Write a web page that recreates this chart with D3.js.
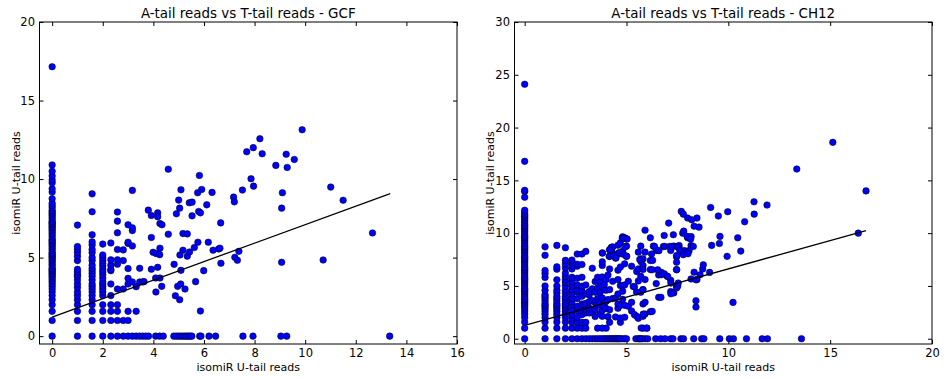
<!DOCTYPE html>
<html>
<head>
<meta charset="utf-8">
<script src="https://cdnjs.cloudflare.com/ajax/libs/d3/7.8.5/d3.min.js"></script>
<style>
body { margin: 0; background: #fff; }
text { font-family: "DejaVu Sans", sans-serif; fill: #000; }
</style>
</head>
<body>
<svg id="chart" width="947" height="379"></svg>
<script>
// GCF: dense log2 columns, [x, [y...]]
var gcfColumns = [
	[0, [0, 1, 1.58, 2, 2.32, 2.58, 2.81, 3, 3.17, 3.32, 3.46, 3.58, 3.7, 3.81, 3.91, 4, 4.09, 4.17, 4.25, 4.32, 4.46, 4.58, 4.7, 4.81, 4.91, 5, 5.09, 5.17, 5.25, 5.32, 5.46, 5.58, 5.7, 5.81, 5.91, 6, 6.09, 6.17, 6.32, 6.46, 6.58, 6.7, 6.81, 6.91, 7, 7.09, 7.17, 7.25, 7.32, 7.46, 7.58, 7.7, 7.81, 7.91, 8, 8.17, 8.32, 8.46, 8.75, 9.17, 9.38, 9.76, 9.94, 10.2, 10.5, 10.9, 17.15]],
	[1, [0, 1, 1.58, 2, 2.32, 2.58, 2.81, 3.09, 3.32, 3.58, 3.81, 3.91, 4.09, 4.25, 4.81, 5.09, 5.32, 5.52, 5.7, 7.07]],
	[1.58, [0, 1, 1.58, 2, 2.32, 2.58, 2.81, 3, 3.17, 3.32, 3.58, 3.81, 4, 4.17, 4.32, 4.52, 4.81, 5, 5.32, 5.52, 5.81, 6.0, 6.46, 7.92, 9.06]],
	[2, [0, 1, 1.58, 2, 2.58, 2.81, 3, 3.17, 3.32, 3.46, 3.7, 3.91, 4.09, 4.25, 4.46, 4.64, 4.81, 5.0, 5.17, 5.86]],
	[2.32, [0, 1, 1.58, 2, 2.58, 3.32, 4.17, 4.25, 4.52, 4.86, 5.93]],
	[2.58, [0, 1, 1.58, 2, 3.0, 4.58, 4.86, 5.52, 6.58, 7.32, 7.9]],
	[2.81, [0, 1, 3.0, 4.81, 5.49]],
	[3, [0, 1, 1.58, 3.32, 3.68, 4.3, 5.9, 5.98, 7.09]],
	[3.17, [0, 3.45, 5.74, 6.72, 6.89, 9.28]],
	[3.32, [0, 1.58, 3.15]],
	[3.46, [0, 3.45, 4.32]],
	[3.58, [0, 3.45]]
];
var gcfZeroRow = [3.7, 3.81, 4.09, 4.25, 4.39, 4.81, 4.91, 5, 5.09, 5.17, 5.25, 5.32, 5.39, 5.46, 5.52, 5.83, 5.88, 6.2, 6.46, 7.54, 7.94, 9.04, 9.27, 13.34];
var gcfScatter = [
	[3.8, 8.02], [3.92, 7.68], [4.17, 7.85], [4.17, 7.6], [4.26, 7.17], [4.34, 7.09], [4.91, 7.79], [5.04, 8.15],
	[5.0, 8.66], [5.42, 8.49], [5.53, 8.53], [5.53, 7.66], [5.79, 7.94], [5.86, 7.85], [5.75, 9.13], [6.11, 8.36],
	[6.66, 7.21], [7.17, 8.85], [7.2, 8.55], [3.92, 6.28], [4.59, 6.49], [5.17, 6.53], [5.34, 6.51], [3.99, 5.34],
	[4.11, 5.26], [4.25, 5.19], [4.26, 5.6], [5.05, 5.17], [5.17, 5.47], [5.34, 5.09], [5.43, 5.36], [5.62, 5.64],
	[5.76, 5.98], [6.17, 5.98], [6.36, 5.47], [6.58, 5.55], [6.63, 5.6], [6.67, 4.64], [5.99, 4.17], [5.09, 4.19],
	[4.82, 4.57], [3.92, 4.26], [4.17, 4.38], [4.26, 3.7], [4.09, 3.7], [4.33, 3.17], [4.1, 2.81], [3.63, 3.47],
	[4.87, 2.57], [5.04, 2.32], [4.96, 3.17], [5.08, 3.32], [5.25, 3.0], [5.67, 3.47], [5.86, 1.6], [7.22, 5.02],
	[7.32, 4.83], [7.38, 5.4], [9.07, 4.7], [9.07, 8.15], [10.71, 4.85], [12.66, 6.57], [4.59, 10.63], [7.69, 11.74],
	[7.95, 12.0], [8.21, 12.57], [8.3, 11.61], [8.84, 10.87], [9.25, 11.58], [9.29, 10.74], [9.57, 11.25], [9.88, 13.14],
	[7.86, 10.02], [7.96, 9.55], [7.52, 9.3], [9.1, 9.13], [11.01, 9.49], [11.5, 8.65], [5.82, 10.23], [5.09, 9.32],
	[5.91, 9.34], [6.32, 9.15]
];
var gcfFit = [[0, 1.21], [13.36, 9.08]];

// CH12
var ch12Columns = [
	[0, [0, 1, 1.58, 2, 2.32, 2.58, 2.81, 3, 3.17, 3.32, 3.46, 3.58, 3.7, 3.81, 4, 4.17, 4.32, 4.46, 4.58, 4.7, 4.81, 5, 5.17, 5.32, 5.46, 5.58, 5.7, 5.81, 6, 6.17, 6.32, 6.46, 6.58, 6.7, 6.81, 7, 7.17, 7.32, 7.46, 7.58, 7.7, 7.81, 8, 8.17, 8.32, 8.46, 8.58, 8.7, 8.81, 9, 9.17, 9.32, 9.46, 9.58, 9.7, 9.81, 10, 10.17, 10.32, 10.46, 10.58, 10.7, 10.81, 11, 11.17, 11.32, 11.46, 11.58, 11.7, 11.81, 12, 12.17, 13.4, 13.95, 14.05, 16.8, 24.1]],
	[1, [0, 1, 1.58, 2, 2.32, 2.58, 2.81, 3, 3.17, 3.32, 3.58, 3.81, 4, 4.17, 4.58, 5, 5.81, 6.17, 6.46, 7.9, 8.7]],
	[1.58, [0, 1, 1.58, 2, 2.32, 2.58, 2.81, 3, 3.17, 3.32, 3.58, 3.81, 4, 4.32, 4.58, 5, 5.58, 6.58, 6.81, 8.84]],
	[2, [0, 1, 1.58, 2, 2.32, 2.58, 2.81, 3, 3.17, 3.32, 3.58, 3.81, 4, 4.32, 4.58, 5, 5.32, 5.58, 5.9, 6.22, 6.7, 7.07, 7.42, 8.62]],
	[2.32, [0, 1, 1.55, 1.87, 2.28, 2.75, 3.23, 3.48, 3.83, 4.24, 4.65, 5.0, 5.41, 5.82, 6.61, 6.93, 7.25, 7.44]],
	[2.58, [0, 1, 1.55, 2.03, 2.66, 3.07, 3.8, 4.43, 4.65, 5.09, 5.73, 6.87, 7.06, 8.02]],
	[2.81, [0, 1, 1.55, 2.28, 2.69, 3.29, 4.02, 4.53, 4.97, 5.82, 7.03, 8.02]],
	[3, [0, 1, 1.55, 2.44, 2.75, 3.35, 4.24, 5.09, 8.27]],
	[3.17, [2.44, 2.91, 3.51, 4.15, 4.46]],
	[3.32, [2.5, 3.61, 4.72, 6.68]],
	[3.46, [2.1, 2.75, 3.4, 4.4, 5.41]],
	[3.58, [1, 3.16, 3.8, 4.81, 5.82]],
	[3.7, [2.34, 3.51, 4.37, 5.35]],
	[3.81, [1, 2.12, 2.69, 3.16, 3.86, 4.97, 5.85, 6.93, 7.28, 8.12]],
	[3.91, [3.13, 4.65, 5.13]],
	[4, [1, 2.85, 3.54, 4.59, 5.6]],
	[4.09, [2.09, 3.7, 6.04]],
	[4.17, [1.55, 2.75, 4.65, 6.61, 7.8, 8.43]],
	[4.25, [8.64, 8.29]],
	[4.32, [3.8, 5.44, 8.1, 8.68]],
	[4.46, [2.06, 3.86, 7.64, 7.88]],
	[4.58, [2.88, 3.29, 4.24, 5.6, 6.49, 8.0, 8.86]],
	[4.7, [1.55, 1.96, 3.16, 5.03, 6.8, 9.08]],
	[4.81, [3.73, 4.49, 5.03, 8.29, 9.65]],
	[4.91, [2.03, 3.16, 5.09, 7.09, 9.56]],
	[5.0, [7.82, 8.77, 9.46]]
];
var ch12ZeroRow = [3.17, 3.32, 3.46, 3.58, 3.7, 3.81, 3.91, 4, 4.09, 4.17, 4.25, 4.32, 4.39, 4.46, 4.52, 4.58, 4.64, 4.7, 4.81, 4.91, 5.0, 5.46, 5.58, 5.64, 5.7, 5.78, 5.91, 6.04, 6.43, 6.68, 6.89, 7.17, 7.28, 7.67, 7.8, 8.3, 8.69, 8.8, 9.58, 10.05, 10.25, 10.89, 11.66, 11.92, 13.59];
var ch12Scatter = [
	[5.09, 5.44], [5.09, 3.07], [5.25, 6.87], [5.25, 3.45], [5.25, 2.63], [5.39, 4.91], [5.39, 2.28], [5.5, 6.36],
	[5.5, 2.12], [5.58, 8.2], [5.58, 6.61], [5.58, 5.47], [5.58, 1.93], [5.7, 8.77], [5.7, 7.56], [5.7, 7.41],
	[5.7, 5.92], [5.7, 4.4], [5.81, 7.56], [5.81, 6.93], [5.81, 6.55], [5.81, 4.65], [5.81, 3.29], [5.81, 2.12],
	[5.81, 1.0], [5.91, 10.28], [5.91, 8.2], [5.91, 5.6], [5.91, 3.45], [5.91, 2.34], [6.0, 1.0], [6.17, 9.56],
	[6.17, 7.41], [6.17, 6.55], [6.17, 2.56], [6.32, 8.77], [6.46, 8.35], [6.46, 5.22], [6.58, 6.04], [6.58, 3.92],
	[6.7, 6.3], [6.85, 9.78], [6.81, 8.73], [7.07, 10.95], [7.0, 5.92], [7.17, 8.35], [7.17, 5.54], [7.17, 4.46],
	[7.3, 9.85], [7.32, 8.77], [7.32, 4.34], [7.46, 7.75], [7.46, 7.25], [7.46, 6.55], [7.46, 5.03], [7.46, 4.81],
	[7.58, 8.83], [7.58, 8.61], [7.69, 12.06], [7.79, 11.8], [7.76, 10.0], [7.81, 10.19], [7.84, 8.34], [7.81, 8.13],
	[8.0, 11.43], [8.0, 9.56], [8.07, 8.34], [8.2, 11.27], [8.17, 9.68], [8.17, 8.83], [8.17, 5.66], [8.32, 10.66],
	[8.32, 6.3], [8.41, 3.6], [8.41, 3.0], [8.46, 11.43], [8.46, 5.6], [8.56, 10.57], [8.61, 6.06], [8.74, 6.6],
	[8.77, 7.0], [9.08, 6.28], [9.13, 12.43], [9.18, 8.84], [9.51, 11.62], [9.56, 9.02], [9.59, 9.69], [9.97, 12.03],
	[9.94, 7.8], [10.23, 3.44], [10.46, 9.56], [10.61, 8.3], [10.8, 11.08], [11.26, 12.97], [11.27, 11.8], [11.9, 12.66],
	[13.36, 16.07], [15.13, 18.6], [16.76, 14.0], [16.38, 10.0], [6.38, 8.74], [6.59, 8.34], [6.88, 8.74], [7.11, 8.74],
	[7.23, 8.74], [7.51, 8.68], [7.62, 8.34], [8.28, 8.74], [7.98, 9.69], [8.15, 9.44], [7.46, 7.87], [7.79, 7.96],
	[8.02, 8.05], [6.53, 6.53], [6.72, 6.06], [6.85, 6.16], [7.02, 5.9], [7.46, 6.53], [7.18, 5.27], [7.51, 4.96],
	[7.18, 4.26], [6.69, 3.92], [7.54, 5.27], [8.41, 5.58], [5.8, 4.64], [5.49, 4.42], [5.33, 4.95], [6.26, 2.59],
	[5.82, 2.33], [5.72, 1.01], [5.99, 1.01], [6.23, 8.02], [6.28, 7.42], [6.26, 6.53], [4.92, 8.68], [4.79, 9.53],
	[4.88, 9.53], [5.03, 9.44], [4.51, 8.0], [4.64, 8.17], [4.84, 8.0], [4.3, 8.68], [4.18, 8.43], [3.82, 8.12],
	[4.15, 7.8], [4.35, 7.86], [4.48, 7.64], [5.0, 7.8], [5.72, 7.3], [5.65, 7.5]
];
var ch12Fit = [[0, 1.27], [16.76, 10.23]];

var gcfXTicks = [0, 2, 4, 6, 8, 10, 12, 14, 16];
var gcfYTicks = [0, 5, 10, 15, 20];
var ch12XTicks = [0, 5, 10, 15, 20];
var ch12YTicks = [0, 5, 10, 15, 20, 25, 30];

function collect(columns, zeroRow, scatter) {
	var pts = [];
	columns.forEach(function(c) {
		c[1].forEach(function(v) { pts.push([c[0], v]); });
	});
	zeroRow.forEach(function(v) { pts.push([v, 0]); });
	return pts.concat(scatter);
}

var svg = d3.select("#chart");

function drawPanel(p) {
	var x = d3.scaleLinear().domain(p.xDomain).range([p.left, p.right]);
	var y = d3.scaleLinear().domain(p.yDomain).range([p.bottom, p.top]);
	var g = svg.append("g");

	g.append("g").attr("transform", "translate(0," + p.bottom + ")")
		.call(d3.axisBottom(x).tickValues(p.xTicks).tickSizeInner(-4).tickSizeOuter(0).tickPadding(5).tickFormat(d3.format("d")));
	g.append("g").attr("transform", "translate(0," + p.top + ")")
		.call(d3.axisTop(x).tickValues(p.xTicks).tickSizeInner(-4).tickSizeOuter(0).tickFormat(""));
	g.append("g").attr("transform", "translate(" + p.left + ",0)")
		.call(d3.axisLeft(y).tickValues(p.yTicks).tickSizeInner(-4).tickSizeOuter(0).tickPadding(4.5).tickFormat(d3.format("d")));
	g.append("g").attr("transform", "translate(" + p.right + ",0)")
		.call(d3.axisRight(y).tickValues(p.yTicks).tickSizeInner(-4).tickSizeOuter(0).tickFormat(""));
	g.selectAll(".domain").remove();
	g.selectAll(".tick line").attr("stroke", "#000");
	g.selectAll(".tick text").attr("font-size", 11.5).attr("font-family", "DejaVu Sans");

	g.append("g").selectAll("circle")
		.data(p.points)
		.enter().append("circle")
		.attr("cx", function(d) { return x(d[0]); })
		.attr("cy", function(d) { return y(d[1]); })
		.attr("r", 3.3)
		.attr("fill", "#0000ff")
		.attr("stroke", "#000")
		.attr("stroke-width", 0.5);

	g.append("path")
		.datum(p.fit)
		.attr("d", d3.line().x(function(d) { return x(d[0]); }).y(function(d) { return y(d[1]); }))
		.attr("fill", "none")
		.attr("stroke", "#000")
		.attr("stroke-width", 1.3);

	g.append("rect")
		.attr("x", p.left).attr("y", p.top)
		.attr("width", p.right - p.left).attr("height", p.bottom - p.top)
		.attr("fill", "none").attr("stroke", "#000").attr("stroke-width", 1);

	var title = g.append("text")
		.attr("x", (p.left + p.right) / 2).attr("y", 18)
		.attr("text-anchor", "middle").attr("font-size", 13.5)
		.text(p.title);
	// scale title to the width seen in the picture
	var w = title.node().getComputedTextLength();
	title.attr("font-size", 13.5 * p.titleWidth / w);

	g.append("text")
		.attr("x", (p.left + p.right) / 2).attr("y", 371)
		.attr("text-anchor", "middle").attr("font-size", 11)
		.text("isomiR U-tail reads");
	g.append("text")
		.attr("transform", "translate(" + p.yLabelX + "," + (p.top + p.bottom) / 2 + ") rotate(-90)")
		.attr("text-anchor", "middle").attr("font-size", 11)
		.text("isomiR U-tail reads");
}

drawPanel({
	title: "A-tail reads vs T-tail reads - GCF",
	titleWidth: 215,
	points: collect(gcfColumns, gcfZeroRow, gcfScatter),
	fit: gcfFit,
	xDomain: [-0.5, 16], yDomain: [-0.5, 20],
	xTicks: gcfXTicks, yTicks: gcfYTicks,
	left: 39.5, right: 457, top: 22, bottom: 344, yLabelX: 20
});

drawPanel({
	title: "A-tail reads vs T-tail reads - CH12",
	titleWidth: 224,
	points: collect(ch12Columns, ch12ZeroRow, ch12Scatter),
	fit: ch12Fit,
	xDomain: [-0.5, 20], yDomain: [-0.5, 30],
	xTicks: ch12XTicks, yTicks: ch12YTicks,
	left: 514.5, right: 932, top: 22, bottom: 344, yLabelX: 494
});
</script>
</body>
</html>
